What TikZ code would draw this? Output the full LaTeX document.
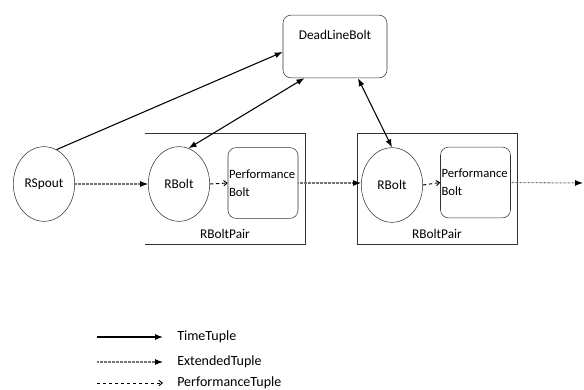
\documentclass[tikz,border=0pt]{standalone}
\usepackage{fontspec}
\setmainfont{Carlito}
\usetikzlibrary{shapes,arrows.meta}

\begin{document}
\begin{tikzpicture}[x=0.75pt,y=-0.75pt]
\tikzset{
boltcircle/.style={ellipse,draw=black!80,thin,minimum width=46pt,minimum height=56pt,inner sep=0pt,font=\fontsize{10}{12}\selectfont},
perfbox/.style={rectangle,rounded corners=6pt,draw=black!80,thin,minimum width=52.5pt,minimum height=53pt,text width=51pt,align=left,inner sep=0.5pt,font=\fontsize{9.5}{13.5}\selectfont},
deadbox/.style={rectangle,rounded corners=6pt,draw=black!80,thin,minimum width=78pt,minimum height=47pt},
pairbox/.style={rectangle,minimum width=120pt,minimum height=83pt,inner sep=0pt},
pairlabel/.style={anchor=center,yshift=8pt,font=\fontsize{10}{12}\selectfont},
timearrow/.style={->, >={Latex[length=6pt,width=4.5pt]}, line width=0.8pt},
extarrow/.style={->, >={Latex[length=6pt,width=4.5pt,black]}, line width=0.8pt, black!55, dash pattern=on 0.5pt off 0.5pt},
perfarrow/.style={->, >={Straight Barb[length=2.5pt,width=4pt]}, line width=0.7pt, dash pattern=on 2.5pt off 2pt},
mylabel/.style={anchor=west, inner sep=0pt, font=\fontsize{10.5}{12}\selectfont},
}
\useasboundingbox (0,0) rectangle (584,389);

\node [deadbox, label={[anchor=center,yshift=-15pt,font=\fontsize{10}{12}\selectfont]north:DeadLineBolt}] (deadline) at (335,46.5) {};
\node [boltcircle] (rspout) at (44,184) {RSpout};
\node [pairbox, label={[pairlabel]south:RBoltPair}] (pair1) at (225,188.5) {};
\node [pairbox, draw=black!80, thin, label={[pairlabel]south:RBoltPair}] (pair2) at (437,189) {};
\node [boltcircle] (rbolt1) at (179,184) {RBolt};
\node [perfbox] (perf1) at (263,183) {Performance\\Bolt};
\node [boltcircle] (rbolt2) at (392,185) {RBolt};
\node [perfbox] (perf2) at (475.5,182.5) {Performance\\Bolt};
\coordinate (out) at (583,183);
\draw[thin, black!80] (pair1.north west) -- (pair1.north east) -- (pair1.south east) -- (pair1.south west);

\draw[timearrow] (rspout.70) -- (deadline.186);
\draw[timearrow, <->] (rbolt1.75) -- (deadline.226);
\draw[timearrow, <->] (rbolt2.north) -- (deadline.306);
\draw[extarrow] (rspout.east) -- (rbolt1.west);
\draw[perfarrow] (rbolt1.east) -- (perf1.west);
\draw[extarrow] (perf1.east) -- (rbolt2.west |- perf1.east);
\draw[perfarrow] (rbolt2.east) -- (perf2.west);
\draw[extarrow] (perf2.east) -- (out);

% legend
\coordinate (ts) at (97,337);
\coordinate (te) at (163,337);
\coordinate (es) at (97,362);
\coordinate (ee) at (163,362);
\coordinate (ps) at (97,383);
\coordinate (pe) at (163,383);
\node [mylabel] (tlabel) at (177,337) {TimeTuple};
\node [mylabel] (elabel) at (177,362) {ExtendedTuple};
\node [mylabel] (plabel) at (177,383) {PerformanceTuple};
\draw[timearrow] (ts) -- (te);
\draw[extarrow] (es) -- (ee);
\draw[perfarrow] (ps) -- (pe);
\end{tikzpicture}
\end{document}
